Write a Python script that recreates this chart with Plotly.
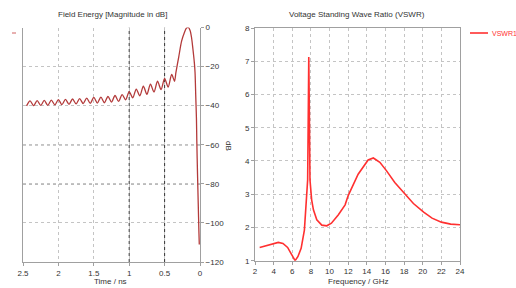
import plotly.graph_objects as go

# ---- Left panel: Field Energy [Magnitude in dB] vs Time / ns ----
time_ns = [2.45, 2.40, 2.35, 2.30, 2.25, 2.20, 2.15, 2.10, 2.05, 2.00,
           1.95, 1.90, 1.85, 1.80, 1.75, 1.70, 1.65, 1.60, 1.55, 1.50,
           1.45, 1.40, 1.35, 1.30, 1.25, 1.20, 1.15, 1.10, 1.05, 1.00,
           0.95, 0.90, 0.85, 0.80, 0.75, 0.70, 0.65, 0.60, 0.55, 0.50,
           0.45, 0.40, 0.36, 0.34, 0.30, 0.26, 0.22, 0.19, 0.165, 0.14,
           0.12, 0.10, 0.08, 0.07, 0.06, 0.05, 0.045, 0.035, 0.025, 0.015, 0.01]
energy_db = [-40.1, -37.5, -40.0, -37.4, -39.9, -37.3, -39.8, -37.2, -39.6, -36.9,
             -39.5, -36.8, -39.3, -36.6, -39.1, -36.4, -38.9, -36.1, -38.8, -35.8,
             -38.7, -35.6, -38.5, -35.3, -38.2, -34.8, -37.8, -34.3, -37.0, -32.8,
             -36.0, -31.5, -35.0, -30.0, -34.2, -29.0, -33.0, -27.5, -31.8, -26.0,
             -30.5, -24.0, -27.5, -23.0, -15.0, -7.0, -2.5, -0.3, 0.0, -1.5,
             -5.0, -11.0, -18.0, -23.0, -35.0, -47.0, -58.0, -75.0, -90.0, -105.0, -111.0]
time_ticks = [2.5, 2, 1.5, 1, 0.5, 0]
db_ticks = [0, -20, -40, -60, -80, -100, -120]

# ---- Right panel: VSWR vs Frequency / GHz ----
freq_ghz = [2.5, 3, 3.5, 4, 4.5, 5, 5.5, 6, 6.3, 6.6, 6.95, 7.3, 7.55, 7.65, 7.72,
            7.77, 7.83, 7.9, 8.08, 8.27, 8.63, 9.17, 9.7, 10.2, 10.95, 11.67, 12.0,
            13.07, 14.14, 14.7, 15.4, 16.1, 17, 18.1, 19, 20.1, 21, 22, 23, 24]
vswr = [1.40, 1.44, 1.48, 1.52, 1.55, 1.52, 1.40, 1.15, 1.0, 1.12, 1.37, 1.92, 2.83, 3.43, 5.5,
        7.13, 5.5, 3.43, 2.83, 2.53, 2.23, 2.07, 2.05, 2.13, 2.38, 2.68, 2.96,
        3.6, 4.03, 4.09, 3.96, 3.71, 3.35, 3.0, 2.72, 2.46, 2.28, 2.16, 2.1, 2.08]
freq_ticks = [2, 4, 6, 8, 10, 12, 14, 16, 18, 20, 22, 24]
vswr_ticks = [1, 2, 3, 4, 5, 6, 7, 8]

W, H = 516, 288
FONT = "Liberation Sans"
TXT = "#333333"
GRID = "#c4c4c4"
AXL = "#a0a0a0"
RED = "#ff3030"


def px(x):
    return x / W


def py(y):
    return (H - y) / H


fig = go.Figure()
fig.add_trace(go.Scatter(x=time_ns, y=energy_db, mode="lines",
                         line=dict(color="#b33a3a", width=1.3, shape="spline", smoothing=0.8),
                         xaxis="x", yaxis="y", showlegend=False))
fig.add_trace(go.Scatter(x=freq_ghz, y=vswr, mode="lines", name="VSWR1",
                         line=dict(color=RED, width=1.6),
                         xaxis="x2", yaxis="y2", showlegend=False))

tickfont = dict(family=FONT, size=8, color=TXT)
common = dict(tickfont=tickfont, showgrid=True, gridcolor=GRID, griddash="dot", gridwidth=1,
              showline=True, linecolor=AXL, linewidth=1, ticks="outside", ticklen=3,
              tickcolor=AXL, zeroline=False, automargin=False)

fig.update_layout(
    width=W, height=H, margin=dict(l=0, r=0, t=0, b=0, autoexpand=False),
    paper_bgcolor="white", plot_bgcolor="white", showlegend=False,
    font=dict(family=FONT, size=8, color=TXT),
    xaxis=dict(domain=[px(23), px(200)], range=[2.5, 0], tickvals=time_ticks,
               anchor="y", **common),
    yaxis=dict(domain=[py(262), py(27.5)], range=[-120, 0], tickvals=db_ticks,
               side="right", mirror=True, anchor="x", **common),
    xaxis2=dict(domain=[px(255), px(460)], range=[2, 24], tickvals=freq_ticks,
                mirror=True, anchor="y2", **common),
    yaxis2=dict(domain=[py(260.7), py(28)], range=[1, 8], tickvals=vswr_ticks,
                mirror=True, anchor="x2", **common),
)

ann = [
    ("Field Energy [Magnitude in dB]", 112, 14, 0, TXT, "center", 8),
    ("Voltage Standing Wave Ratio (VSWR)", 357, 14, 0, TXT, "center", 8),
    ("Time / ns", 110, 281, 0, TXT, "center", 8),
    ("Frequency / GHz", 358, 281, 0, TXT, "center", 8),
    ("dB", 229, 146, 90, TXT, "center", 8),
    ("VSWR1", 490, 33, 0, RED, "left", 7),
]
for text, x, y, ang, col, xa, fs in ann:
    fig.add_annotation(text=text, x=px(x), y=py(y), xref="paper", yref="paper",
                       showarrow=False, textangle=ang, xanchor=xa, yanchor="middle",
                       font=dict(family=FONT, size=fs, color=col))

# legend line for VSWR1
fig.add_shape(type="line", xref="paper", yref="paper", x0=px(470), x1=px(488),
              y0=py(33), y1=py(33), line=dict(color=RED, width=1.6))

# darker dotted grid lines seen in the left panel
for xv in [1, 0.5]:
    fig.add_shape(type="line", xref="x", yref="y", x0=xv, x1=xv, y0=-120, y1=0,
                  line=dict(color="#333333", width=1, dash="dot"), layer="below")
for yv in [-60, -80]:
    fig.add_shape(type="line", xref="x", yref="y", x0=2.5, x1=0, y0=yv, y1=yv,
                  line=dict(color="#333333", width=1, dash="dot"), layer="below")
# small legend mark at top-left of the left panel
fig.add_shape(type="line", xref="paper", yref="paper", x0=px(12), x1=px(16),
              y0=py(33), y1=py(33), line=dict(color="#d06060", width=1))

fig.write_html("out.html", config={"displayModeBar": False},
               post_script="document.body.style.margin='0';document.body.style.overflow='hidden';")
